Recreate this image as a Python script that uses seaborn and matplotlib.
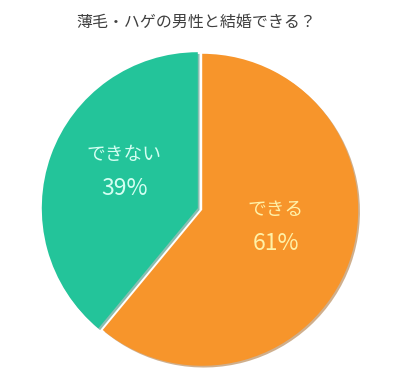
import matplotlib
matplotlib.use("Agg")
import matplotlib.pyplot as plt
import matplotlib.transforms as mtransforms
import seaborn as sns

# Data
labels = ["できる", "できない"]
values = [61, 39]
colors = ["#F7952B", "#23C49A"]
text_colors = ["#FFF1A8", "#D4FFF2"]
title = "薄毛・ハゲの男性と結婚できる？"

sns.set_theme(style="white")
plt.rcParams["font.family"] = ["Noto Sans CJK JP", "DejaVu Sans"]

fig = plt.figure(figsize=(4, 3.75), dpi=100)
fig.patch.set_facecolor("white")
r_px = 156
w = 2.2 * r_px
ax = fig.add_axes([(200 - w / 2) / 400, (166 - w / 2) / 375, w / 400, w / 375])

wedges, texts, autotexts = ax.pie(
    values, colors=colors, startangle=90, counterclock=False,
    explode=[0.015, 0.015], autopct="%.0f%%", pctdistance=0.5,
    labels=labels, labeldistance=0.5,
    wedgeprops=dict(edgecolor="none", linewidth=0),
    shadow={"ox": 0.008, "oy": -0.008, "shade": 0.35},
)
for lab, pct, c in zip(texts, autotexts, text_colors):
    x, y = pct.get_position()
    pct.set_transform(mtransforms.offset_copy(ax.transData, fig=fig, x=0, y=-7, units="dots"))
    pct.set_color(c)
    pct.set_fontsize(16.5)
    pct.set_ha("center")
    pct.set_va("center")
    lab.set_position((x, y))
    lab.set_transform(mtransforms.offset_copy(ax.transData, fig=fig, x=0, y=27, units="dots"))
    lab.set_color(c)
    lab.set_fontsize(13.5)
    lab.set_ha("center")
    lab.set_va("center")
ax.set_xlim(-1.1, 1.1)
ax.set_ylim(-1.1, 1.1)
ax.set_aspect("equal")
ax.axis("off")

fig.text(0.49, 1 - 22 / 375, title, ha="center", va="center",
         fontsize=11.5, color="#404040")

fig.savefig("out.png", dpi=100)
